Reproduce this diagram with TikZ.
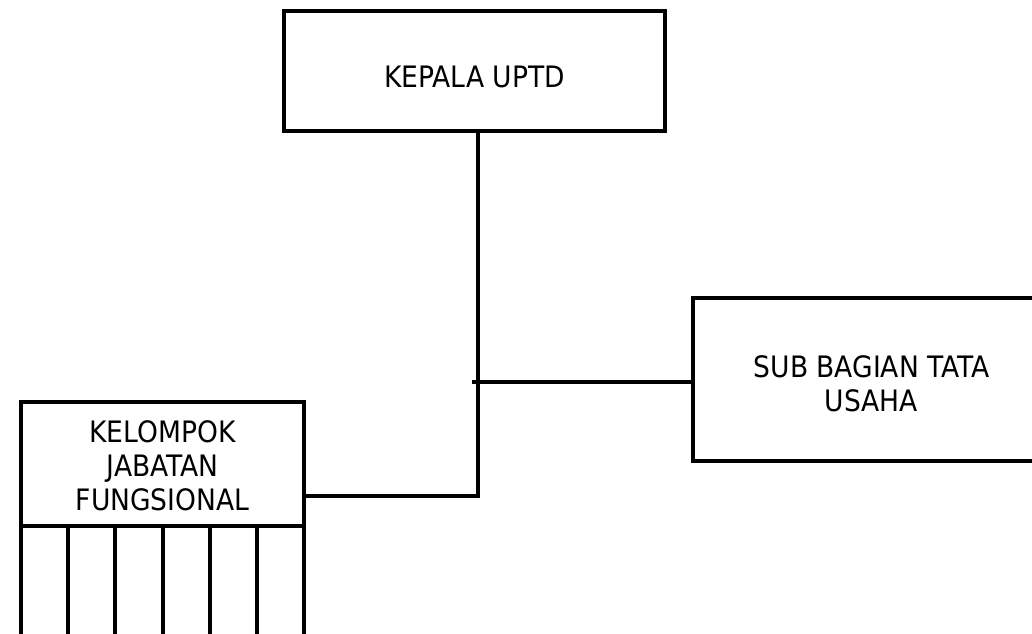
\documentclass[tikz,border=0pt]{standalone}
\usepackage{fontspec}
\setmainfont{DejaVu Sans Condensed}
\begin{document}
\begin{tikzpicture}[x=1pt,y=-1pt,
  box/.style={draw=black,line width=4pt,rectangle,inner sep=0pt,fill=white},
  lbl/.style={font=\fontsize{29.5}{34}\selectfont,align=center,inner sep=0pt,anchor=base},
  conn/.style={draw=black,line width=4pt}]
\clip (0,0) rectangle (1032,633);
\fill[white] (0,0) rectangle (1032,633);
% boxes
\node[box,minimum width=381pt,minimum height=120pt] (kepala) at (474.5,71) {};
\node[box,minimum width=357pt,minimum height=163pt] (sub) at (871.5,379.5) {};
\node[box,minimum width=283pt,minimum height=124pt] (kjf) at (162.5,464) {};
% labels
\node[lbl] (tkepala) at (474.5,87) {KEPALA UPTD};
\node[lbl] (tsub) at (871.5,411) {SUB BAGIAN TATA\\USAHA};
\node[lbl] (tkjf) at (162.5,510) {KELOMPOK\\JABATAN\\FUNGSIONAL};
% connectors
\coordinate (j) at (478,496);
\coordinate (t) at (472,382);
\coordinate (bottom) at (0,640);
\draw[conn] (kepala.south -| j) -- (j) -- (kjf.east |- j);
\draw[conn] (t) -- (sub.west |- t);
% dividers below functional group
\foreach \i in {0,...,6}{
  \coordinate (d\i) at ({21+\i*47.1667},526);
  \draw[conn] (d\i) -- (d\i |- bottom);
}
\end{tikzpicture}
\end{document}
